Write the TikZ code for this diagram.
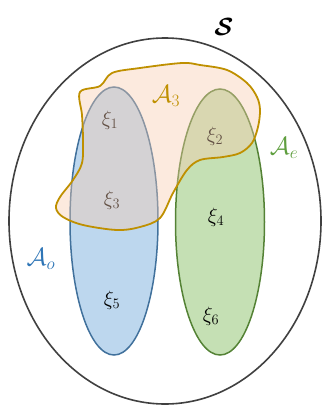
\documentclass[tikz,border=0pt]{standalone}
\usepackage{amsmath,amssymb}
\usetikzlibrary{calc}
\definecolor{setline}{HTML}{404040}
\definecolor{obsfill}{HTML}{BDD7EE}
\definecolor{obsline}{HTML}{41719C}
\definecolor{obstext}{HTML}{2E75B6}
\definecolor{estfill}{HTML}{C5E0B4}
\definecolor{estline}{HTML}{548235}
\definecolor{esttext}{HTML}{5E9E3E}
\definecolor{actfill}{HTML}{F8CBAD}
\definecolor{actline}{HTML}{BF9000}

\begin{document}
\begin{tikzpicture}[x=1pt, y=-1pt,
  setlabel/.style={font=\fontsize{27}{30}\selectfont, inner sep=0pt},
  xilabel/.style={font=\fontsize{22}{24}\selectfont, inner sep=0pt, text=black}]
\useasboundingbox (0,0) rectangle (322,405);
% outer set
\draw[setline, line width=1.6pt] (165,221) ellipse [x radius=156pt, y radius=183pt];
\node[font=\fontsize{38}{40}\selectfont\boldmath, inner sep=0pt] (S) at (224,27) {$\mathcal{S}$};
% observed and estimated sets
\draw[obsline, fill=obsfill, line width=1.5pt] (114,221) ellipse [x radius=44pt, y radius=134pt];
\draw[estline, fill=estfill, line width=1.5pt] (220,222) ellipse [x radius=44.5pt, y radius=133pt];
\foreach \n/\p/\t in {x1/{(110,120)}/1, x2/{(215,136)}/2, x3/{(112,200)}/3,
                      x4/{(216,217)}/4, x5/{(112,300)}/5, x6/{(211,316)}/6} {
  \node[xilabel] (\n) at \p {$\xi_\t$};
}
% active set
\draw[actline, fill=actfill, fill opacity=0.4, line width=1.8pt, line join=round]
  plot[smooth cycle, tension=0.55] coordinates {
    (80,92) (100,86) (112,73) (140,68) (182,63) (200,65) (227,70) (247,83)
    (257,97) (260,110) (258,127) (252,143) (240,153) (223,157) (200,160)
    (187,170) (173,193) (160,218) (140,227) (117,230) (83,225) (63,217)
    (56,208) (60,197) (73,180) (82,163) (83,140) (82,115)};
\node[setlabel, text=actline] (A3) at (166,96) {$\mathcal{A}_3$};
\node[setlabel, text=esttext] (Ae) at (284,148) {$\mathcal{A}_e$};
\node[setlabel, text=obstext] (Ao) at (41,259) {$\mathcal{A}_o$};
\end{tikzpicture}
\end{document}
